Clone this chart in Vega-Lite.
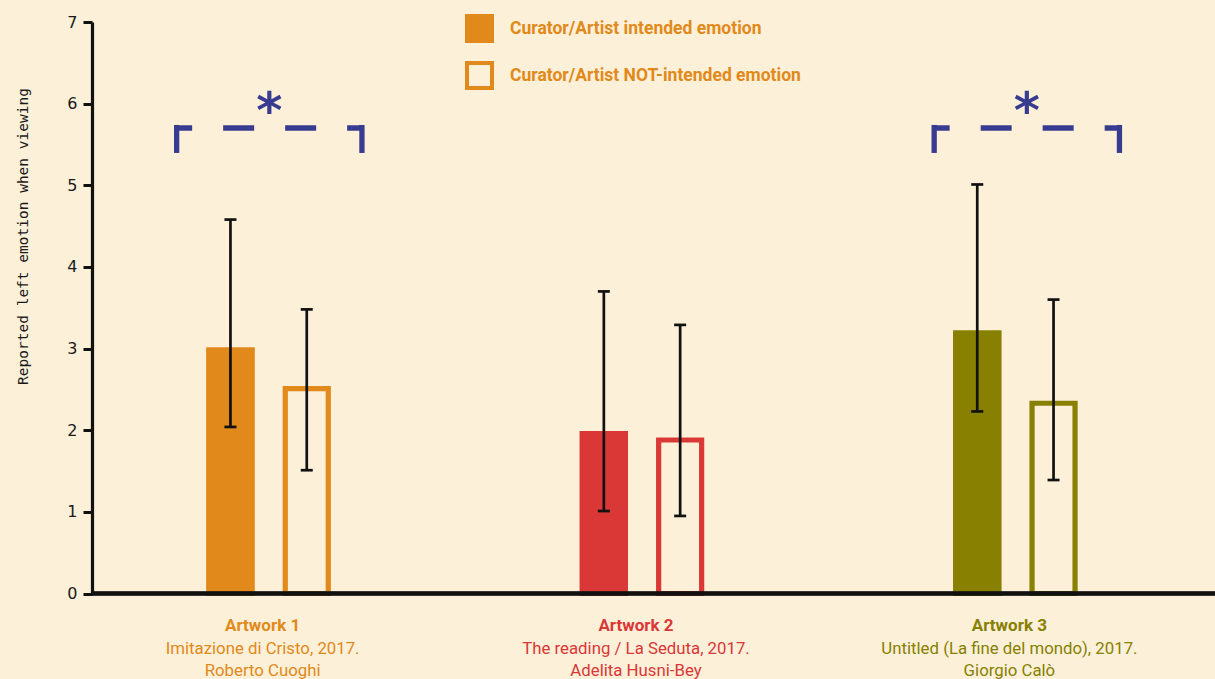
{
  "$schema": "https://vega.github.io/schema/vega-lite/v6.json",
  "width": 1123,
  "height": 571.5,
  "autosize": "none",
  "padding": {"left": 92, "top": 22, "right": 0, "bottom": 85.5},
  "background": "#fcf0d8",
  "config": {"view": {"stroke": null}},
  "datasets": {
    "ratings": [
      {"artwork": "Artwork 1", "emotion": "Curator/Artist intended emotion", "mean": 2.98, "lo": 2.04, "hi": 4.58},
      {"artwork": "Artwork 1", "emotion": "Curator/Artist NOT-intended emotion", "mean": 2.51, "lo": 1.51, "hi": 3.48},
      {"artwork": "Artwork 2", "emotion": "Curator/Artist intended emotion", "mean": 1.96, "lo": 1.01, "hi": 3.70},
      {"artwork": "Artwork 2", "emotion": "Curator/Artist NOT-intended emotion", "mean": 1.88, "lo": 0.95, "hi": 3.29},
      {"artwork": "Artwork 3", "emotion": "Curator/Artist intended emotion", "mean": 3.19, "lo": 2.23, "hi": 5.01},
      {"artwork": "Artwork 3", "emotion": "Curator/Artist NOT-intended emotion", "mean": 2.33, "lo": 1.39, "hi": 3.60}
    ],
    "significance": [
      {"artwork": "Artwork 1", "label": "*"},
      {"artwork": "Artwork 3", "label": "*"}
    ]
  },
  "layer": [
    {
      "data": {"name": "ratings"},
      "resolve": {"axis": {"x": "independent"}},
      "encoding": {
        "x": {
          "field": "artwork",
          "type": "nominal",
          "sort": null,
          "axis": null,
          "scale": {"domain": ["Artwork 1", "Artwork 2", "Artwork 3"], "range": [100.3, 999.7], "paddingInner": 0.5913, "paddingOuter": 0}
        },
        "xOffset": {
          "field": "emotion",
          "type": "nominal",
          "sort": null,
          "scale": {"domain": ["Curator/Artist intended emotion", "Curator/Artist NOT-intended emotion"], "paddingInner": 0.4364, "paddingOuter": 0.2182}
        },
        "stroke": {
          "field": "artwork",
          "type": "nominal",
          "scale": {"domain": ["Artwork 1", "Artwork 2", "Artwork 3"], "range": ["#e1891a", "#da3737", "#878000"]},
          "legend": null
        }
      },
      "layer": [
        {
          "mark": {"type": "bar", "strokeWidth": 5.2, "strokeJoin": "miter"},
          "encoding": {
            "x": {
              "field": "artwork",
              "type": "nominal",
              "sort": null,
              "axis": {
                "orient": "bottom",
                "title": null,
                "domain": false,
                "ticks": false,
                "grid": false,
                "labelAngle": 0,
                "labelFont": "Roboto",
                "labelFontSize": 17,
                "labelFontWeight": "bold",
                "labelBaseline": "alphabetic",
                "labelPadding": 37,
                "labelOffset": -6,
                "labelLimit": 0,
                "labelColor": {"expr": "datum.value === 'Artwork 1' ? '#e1891a' : datum.value === 'Artwork 2' ? '#da3737' : '#878000'"}
              }
            },
            "y": {
              "field": "mean",
              "type": "quantitative",
              "scale": {"domain": [0, 7], "nice": false},
              "axis": {
                "title": "Reported left emotion when viewing",
                "values": [0, 1, 2, 3, 4, 5, 6, 7],
                "format": "d",
                "grid": false,
                "domainColor": "#111111",
                "domainWidth": 3.2,
                "tickColor": "#111111",
                "tickWidth": 3,
                "tickSize": 9,
                "labelFont": "DejaVu Sans",
                "labelFontSize": 16,
                "labelColor": "#1a1a1a",
                "labelPadding": 6,
                "titleFont": "DejaVu Sans Mono",
                "titleFontSize": 14.5,
                "titleFontWeight": "normal",
                "titleColor": "#1a1a1a",
                "titleAngle": -90,
                "titleAlign": "center",
                "titleBaseline": "alphabetic",
                "titleX": -65,
                "titleY": 214
              }
            },
            "fill": {
              "field": "emotion",
              "type": "nominal",
              "sort": null,
              "scale": {"domain": ["Curator/Artist intended emotion", "Curator/Artist NOT-intended emotion"], "range": ["#e1891a", "#fcf0d8"]},
              "legend": {
                "title": null,
                "orient": "none",
                "legendX": 373,
                "legendY": -8,
                "padding": 0,
                "symbolType": "square",
                "symbolSize": 625,
                "symbolStrokeWidth": 4,
                "symbolStrokeColor": "#e1891a",
                "labelFont": "Roboto",
                "labelFontSize": 17.5,
                "labelFontWeight": "bold",
                "labelColor": "#e1891a",
                "labelOffset": 16,
                "labelLimit": 0,
                "rowPadding": 6,
                "encode": {
                  "symbols": {
                    "update": {
                      "stroke": {"value": "#e1891a"},
                      "strokeWidth": {"value": 4},
                      "opacity": {"value": 1}
                    }
                  }
                }
              }
            }
          }
        },
        {
          "transform": [{"filter": "datum.emotion === 'Curator/Artist intended emotion'"}],
          "mark": {"type": "bar", "strokeWidth": 5.2, "strokeJoin": "miter"},
          "encoding": {
            "y": {"field": "mean", "type": "quantitative"},
            "color": {
              "field": "artwork",
              "type": "nominal",
              "scale": {"domain": ["Artwork 1", "Artwork 2", "Artwork 3"], "range": ["#e1891a", "#da3737", "#878000"]},
              "legend": null
            }
          }
        },
        {
          "mark": {"type": "rule", "color": "#111111", "strokeWidth": 2.7},
          "encoding": {
            "x": {
              "field": "artwork",
              "type": "nominal",
              "sort": null,
              "axis": {
                "orient": "bottom",
                "title": null,
                "domain": false,
                "ticks": false,
                "grid": false,
                "labelAngle": 0,
                "labelFont": "Roboto",
                "labelFontSize": 16.8,
                "labelFontWeight": "normal",
                "labelBaseline": "alphabetic",
                "labelPadding": 59.5,
                "labelOffset": -6,
                "labelLimit": 0,
                "labelLineHeight": 22.7,
                "labelExpr": "datum.value === 'Artwork 1' ? ['Imitazione di Cristo, 2017.', 'Roberto Cuoghi'] : datum.value === 'Artwork 2' ? ['The reading / La Seduta, 2017.', 'Adelita Husni-Bey'] : ['Untitled (La fine del mondo), 2017.', 'Giorgio Calò']",
                "labelColor": {"expr": "datum.value === 'Artwork 1' ? '#e1891a' : datum.value === 'Artwork 2' ? '#da3737' : '#878000'"}
              }
            },
            "y": {"field": "lo", "type": "quantitative"},
            "y2": {"field": "hi"},
            "stroke": {"value": "#111111"}
          }
        },
        {
          "mark": {"type": "tick", "color": "#111111", "size": 12, "thickness": 2.7, "opacity": 1},
          "encoding": {
            "y": {"field": "hi", "type": "quantitative"},
            "stroke": {"value": null}
          }
        },
        {
          "mark": {"type": "tick", "color": "#111111", "size": 12, "thickness": 2.7, "opacity": 1},
          "encoding": {
            "y": {"field": "lo", "type": "quantitative"},
            "stroke": {"value": null}
          }
        }
      ]
    },
    {
      "data": {"name": "significance"},
      "encoding": {
        "x": {
          "field": "artwork",
          "type": "nominal",
          "sort": null,
          "axis": null,
          "scale": {"domain": ["Artwork 1", "Artwork 2", "Artwork 3"], "range": [84.65, 1027.45], "paddingInner": 0.5108, "paddingOuter": 0}
        }
      },
      "layer": [
        {
          "mark": {"type": "rule", "color": "#383c91", "strokeWidth": 5.3, "strokeCap": "butt"},
          "encoding": {
            "x": {"field": "artwork", "type": "nominal", "sort": null, "axis": null, "bandPosition": 0},
            "y": {"datum": 5.739, "type": "quantitative"},
            "y2": {"datum": 5.396}
          }
        },
        {
          "mark": {"type": "rule", "color": "#383c91", "strokeWidth": 5.3, "strokeCap": "butt"},
          "encoding": {
            "x": {"field": "artwork", "type": "nominal", "sort": null, "axis": null, "bandPosition": 1},
            "y": {"datum": 5.739, "type": "quantitative"},
            "y2": {"datum": 5.396}
          }
        },
        {
          "mark": {"type": "rule", "color": "#383c91", "strokeWidth": 5.5, "strokeCap": "butt", "strokeDash": [31, 31], "strokeDashOffset": 15.5},
          "encoding": {
            "x": {"field": "artwork", "type": "nominal", "sort": null, "axis": null, "bandPosition": 0},
            "x2": {"field": "artwork", "bandPosition": 1},
            "y": {"datum": 5.703, "type": "quantitative"}
          }
        },
        {
          "mark": {"type": "text", "color": "#383c91", "font": "DejaVu Sans", "fontWeight": "bold", "fontSize": 50, "align": "center", "baseline": "alphabetic"},
          "encoding": {
            "x": {"field": "artwork", "type": "nominal", "sort": null, "axis": null, "bandPosition": 0.5},
            "y": {"datum": 5.703, "type": "quantitative"},
            "text": {"field": "label"}
          }
        }
      ]
    },
    {
      "data": {"name": "ratings"},
      "mark": {"type": "rule", "color": "#111111", "strokeWidth": 3.3},
      "encoding": {"y": {"datum": 0, "type": "quantitative"}}
    }
  ],
  "resolve": {"scale": {"x": "independent"}, "axis": {"x": "independent"}}
}
